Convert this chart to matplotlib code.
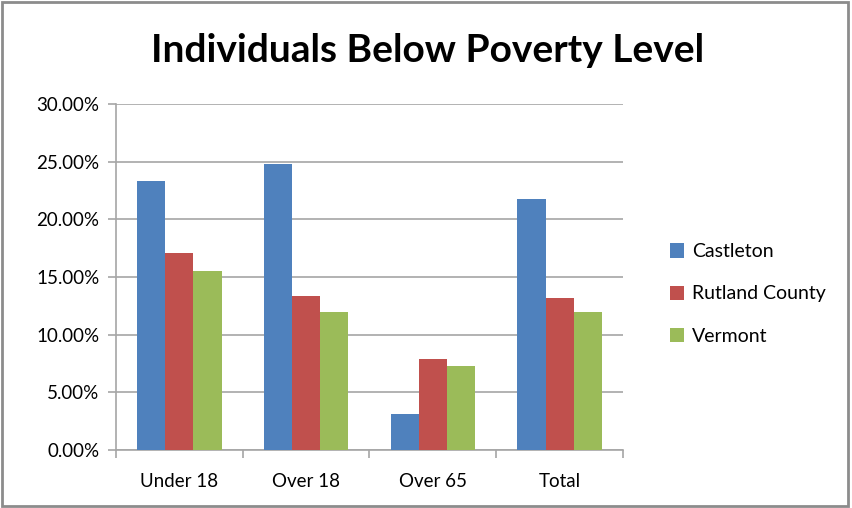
import numpy as np
import matplotlib
matplotlib.use("Agg")
import matplotlib.pyplot as plt
from matplotlib.ticker import FuncFormatter, FixedLocator
from matplotlib.patches import Rectangle

categories = ["Under 18", "Over 18", "Over 65", "Total"]
castleton = [23.3, 24.8, 3.1, 21.75]
rutland = [17.1, 13.35, 7.85, 13.15]
vermont = [15.55, 11.95, 7.3, 11.95]

series = ["Castleton", "Rutland County", "Vermont"]
colors = ["#4F81BD", "#C0504D", "#9BBB59"]

plt.rcParams['font.family'] = ['Lato', 'DejaVu Sans']

fig = plt.figure(figsize=(8.53, 5.08), dpi=100)
ax = fig.add_axes([116/853, 58/508, 507/853, 346/508])

x = np.arange(len(categories))
w = 1 / 4.5
for i, (vals, name, c) in enumerate(zip([castleton, rutland, vermont], series, colors)):
    ax.bar(x + (i - 1) * w, vals, width=w, color=c, label=name, zorder=3)

ax.set_xlim(-0.5, len(categories) - 0.5)
ax.set_ylim(0, 30)
ax.set_yticks(np.arange(0, 31, 5))
ax.yaxis.set_major_formatter(FuncFormatter(lambda v, p: f"{v:.2f}%"))
ax.grid(axis="y", color="#A6A6A6", linewidth=1.2, zorder=0)

# category labels at centres, tick marks at the boundaries
ax.set_xticks(x)
ax.set_xticklabels(categories)
ax.xaxis.set_minor_locator(FixedLocator(np.arange(-0.5, len(categories), 1)))
ax.tick_params(axis="x", which="major", length=0, pad=16.5, labelsize=13.5, labelcolor="#000000")
ax.tick_params(axis="x", which="minor", length=6, color="#A6A6A6", width=1.2)
ax.tick_params(axis="y", length=6, color="#A6A6A6", width=1.2, labelsize=13.5, pad=6)

for s in ["top", "right"]:
    ax.spines[s].set_visible(False)
for s in ["left", "bottom"]:
    ax.spines[s].set_color("#A6A6A6")
    ax.spines[s].set_linewidth(1.2)

fig.text(428/853, 1 - 51/508, "Individuals Below Poverty Level", ha="center", va="center",
         fontsize=28, fontweight="bold")

leg = fig.legend(loc="center left", bbox_to_anchor=(652/853, 1 - 294/508), frameon=False,
                 fontsize=14, handlelength=0.75, handleheight=0.75, handletextpad=0.4,
                 labelspacing=1.3)

fig.patches.append(Rectangle((2/853, 2/508), 846/853, 504/508, transform=fig.transFigure,
                             fill=False, edgecolor="#8C8C8C", linewidth=2))

fig.savefig("out.png", dpi=100)
